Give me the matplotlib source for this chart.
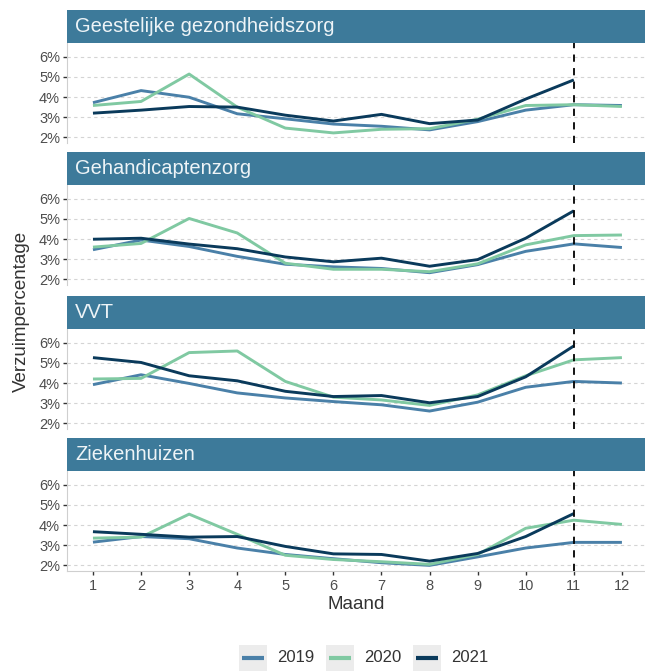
import matplotlib.pyplot as plt
from matplotlib.lines import Line2D
from matplotlib.patches import Rectangle

plt.rcParams["font.family"] = ["Liberation Sans", "DejaVu Sans"]

months = list(range(1, 13))
sectors = ["Geestelijke gezondheidszorg", "Gehandicaptenzorg", "VVT", "Ziekenhuizen"]
years = ["2019", "2020", "2021"]
year_colors = ["#4a80a8", "#80c9a2", "#0a3a5b"]

# absence percentages per month (2021 runs up to November)
ggz_2019 = [3.72, 4.32, 3.99, 3.17, 2.92, 2.66, 2.55, 2.37, 2.78, 3.35, 3.62, 3.58]
ggz_2020 = [3.58, 3.78, 5.14, 3.50, 2.46, 2.22, 2.40, 2.43, 2.90, 3.58, 3.62, 3.53]
ggz_2021 = [3.20, 3.35, 3.53, 3.50, 3.10, 2.81, 3.14, 2.68, 2.86, 3.90, 4.85]

ghz_2019 = [3.47, 3.95, 3.63, 3.14, 2.75, 2.62, 2.54, 2.33, 2.73, 3.39, 3.76, 3.58]
ghz_2020 = [3.60, 3.78, 5.02, 4.30, 2.80, 2.50, 2.50, 2.38, 2.77, 3.71, 4.17, 4.20]
ghz_2021 = [3.99, 4.04, 3.75, 3.52, 3.11, 2.87, 3.05, 2.65, 2.98, 4.04, 5.40]

vvt_2019 = [3.92, 4.41, 3.98, 3.51, 3.26, 3.08, 2.92, 2.61, 3.05, 3.79, 4.08, 4.00]
vvt_2020 = [4.20, 4.23, 5.51, 5.59, 4.08, 3.30, 3.16, 2.89, 3.41, 4.36, 5.15, 5.26]
vvt_2021 = [5.26, 5.02, 4.36, 4.11, 3.59, 3.33, 3.38, 3.02, 3.33, 4.31, 5.84]

zkh_2019 = [3.15, 3.43, 3.32, 2.86, 2.54, 2.33, 2.13, 2.00, 2.42, 2.86, 3.14, 3.14]
zkh_2020 = [3.35, 3.40, 4.54, 3.54, 2.50, 2.29, 2.18, 2.05, 2.54, 3.84, 4.24, 4.03]
zkh_2021 = [3.67, 3.54, 3.40, 3.43, 2.94, 2.57, 2.54, 2.21, 2.59, 3.43, 4.57]

series = [
    [ggz_2019, ggz_2020, ggz_2021],
    [ghz_2019, ghz_2020, ghz_2021],
    [vvt_2019, vvt_2020, vvt_2021],
    [zkh_2019, zkh_2020, zkh_2021],
]
y_ticks = [2, 3, 4, 5, 6]
cutoff_month = 11

W, H = 645, 671
fig = plt.figure(figsize=(W / 100, H / 100), dpi=100)

strip_color = "#3d7a9a"
grid_color = "#d4d4d4"
axis_color = "#cfcfcf"
text_gray = "#4d4d4d"

left_px, right_px = 67, 645
strip_h = 33
panel_tops = [43, 185, 329, 471]
panel_h = 100


def fx(px):
    return px / W


def fy(py):
    return 1 - py / H


for i, (name, data) in enumerate(zip(sectors, series)):
    top = panel_tops[i]
    ax = fig.add_axes([fx(left_px), fy(top + panel_h),
                       (right_px - left_px) / W, panel_h / H])
    ax.set_xlim(0.46, 12.48)
    ax.set_ylim(1.72, 6.68)

    for vals, color in zip(data, year_colors):
        ax.plot(months[:len(vals)], vals, color=color, lw=2.1,
                solid_capstyle="butt", zorder=3)

    ax.axvline(cutoff_month, color="black", lw=1.3, ls=(0, (4, 3.5)), zorder=4)

    ax.set_yticks(y_ticks)
    ax.set_yticklabels([f"{v}%" for v in y_ticks], fontsize=10.5, color=text_gray)
    ax.yaxis.grid(True, color=grid_color, ls=(0, (3, 3)), lw=0.8)
    ax.set_axisbelow(True)
    ax.tick_params(axis="y", length=3, width=1, color="#333333", pad=2)

    for side in ["top", "right"]:
        ax.spines[side].set_visible(False)
    ax.spines["left"].set_color(axis_color)
    ax.spines["left"].set_linewidth(0.8)

    ax.set_xticks(months)
    if i == len(sectors) - 1:
        ax.set_xticklabels([str(m) for m in months], fontsize=10.5, color=text_gray)
        ax.tick_params(axis="x", length=3, width=1, color="#333333", pad=3)
        ax.spines["bottom"].set_color(axis_color)
        ax.spines["bottom"].set_linewidth(0.8)
        ax.set_xlabel("Maand", fontsize=13.5, color="#333333", labelpad=2)
    else:
        ax.tick_params(axis="x", length=0, labelbottom=False)
        ax.spines["bottom"].set_visible(False)

    # facet strip sits directly above the panel
    fig.patches.append(Rectangle((fx(left_px), fy(top)), (right_px - left_px) / W,
                                 strip_h / H, transform=fig.transFigure,
                                 facecolor=strip_color, edgecolor="none"))
    fig.text(fx(75), fy(top - strip_h / 2), name, fontsize=14.5,
             color="#eef4f7", ha="left", va="center")

fig.text(fx(21), fy(311), "Verzuimpercentage", rotation=90,
         fontsize=13.5, color="#333333", ha="center", va="center")

# legend: grey key boxes with a line sample, then the year label
key_x, key_step, key_w = 239, 87, 28
key_top, key_mid = 645, 658
for k, (label, color) in enumerate(zip(years, year_colors)):
    x0 = key_x + k * key_step
    fig.patches.append(Rectangle((fx(x0), fy(H)), key_w / W, (H - key_top) / H,
                                 transform=fig.transFigure,
                                 facecolor="#ececec", edgecolor="none"))
    fig.lines.append(Line2D([fx(x0 + 3), fx(x0 + key_w - 3)], [fy(key_mid)] * 2,
                            transform=fig.transFigure, color=color, lw=3,
                            solid_capstyle="butt"))
    fig.text(fx(x0 + key_w + 10), fy(key_mid), label, fontsize=12,
             color="#333333", ha="left", va="center")

fig.savefig("out.png", dpi=100)
